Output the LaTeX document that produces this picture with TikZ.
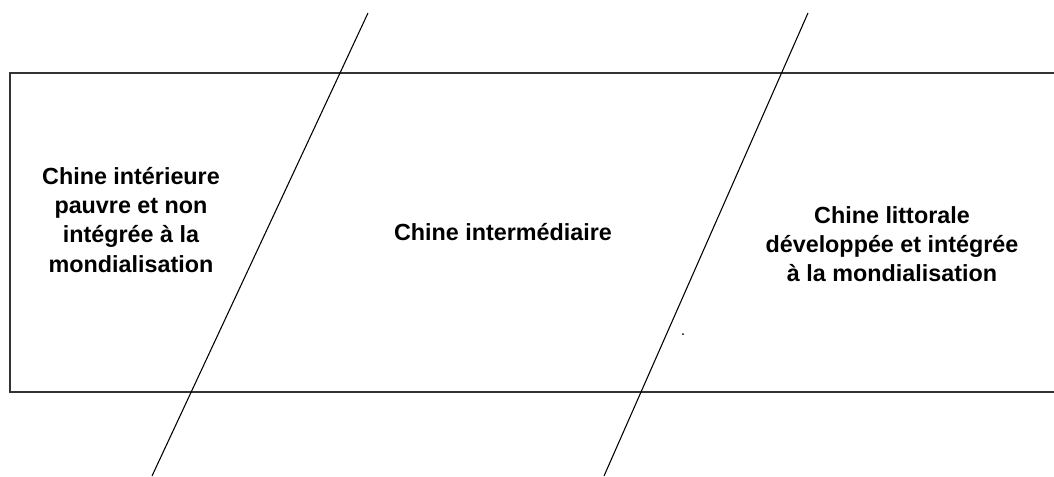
\documentclass[tikz,border=0pt]{standalone}
\usepackage{fontspec}
\setmainfont{Liberation Sans}

\begin{document}
\begin{tikzpicture}[x=0.75pt, y=-0.75pt]
	% Styles des zones et des traits
	\tikzset{zone/.style={align=center, inner sep=0pt, font=\fontsize{17.5}{21.8}\selectfont\bfseries},
		cadre/.style={draw=black!80, line width=1.4pt},
		limite/.style={draw=black, line width=0.8pt}}
	
	\useasboundingbox (0,0) rectangle (1054,476);
	
	% Cadre (ouvert a droite)
	\draw[cadre] (1060,73) -- (10,73) -- (10,392) -- (1060,392);
	
	% Limites obliques entre les trois Chines
	\coordinate (L1h) at (368,13);
	\coordinate (L1b) at (152,476);
	\coordinate (L2h) at (808,13);
	\coordinate (L2b) at (604,476);
	
	\draw[limite] (L1h) -- (L1b);
	\draw[limite] (L2h) -- (L2b);
	
	% Les trois zones
	\node[zone] (interieure) at (131,220) {Chine intérieure\\pauvre et non\\intégrée à la\\mondialisation};
	\node[zone] (intermediaire) at (503,232) {Chine intermédiaire};
	\node[zone] (littorale) at (892,244) {Chine littorale\\développée et intégrée\\à la mondialisation};
	
	\fill (683,334) circle (1);
	
\end{tikzpicture}
\end{document}
